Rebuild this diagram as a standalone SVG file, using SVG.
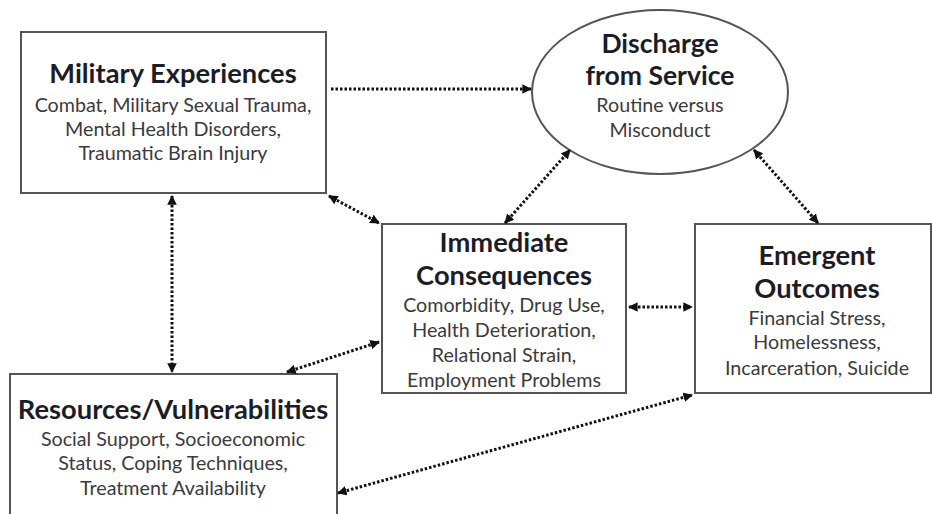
<svg xmlns="http://www.w3.org/2000/svg" width="932" height="514" viewBox="0 0 932 514">
<defs>
<marker id="ah" viewBox="0 0 10 10" refX="9" refY="5" markerWidth="3.2" markerHeight="3.2" orient="auto-start-reverse" markerUnits="strokeWidth">
<path d="M0,0 L10,5 L0,10 z" fill="#111"/>
</marker>
<style>
.box{fill:#fff;stroke:#555;stroke-width:2}
.t{font-family:Lato,"Open Sans","Liberation Sans",sans-serif;font-weight:bold;font-size:27.3px;fill:#1c1c28;text-anchor:middle}
.s{font-family:Lato,"Open Sans","Liberation Sans",sans-serif;font-size:19.7px;fill:#3a3a40;text-anchor:middle}
.c{fill:none;stroke:#111;stroke-width:3;stroke-dasharray:2.5 2}
</style>
</defs>
<rect width="932" height="514" fill="#fff"/>
<g id="military">
<rect class="box" x="21" y="32" width="305" height="161"/>
<text class="t" x="173" y="83">Military Experiences</text>
<text class="s" x="173" y="112">Combat, Military Sexual Trauma,</text>
<text class="s" x="173" y="136">Mental Health Disorders,</text>
<text class="s" x="173" y="160">Traumatic Brain Injury</text>
</g>
<g id="discharge">
<ellipse cx="660" cy="92" rx="128" ry="82" fill="#fff" stroke="#555" stroke-width="2"/>
<text class="t" x="660" y="53" style="font-size:26.5px">Discharge</text>
<text class="t" x="660" y="85" style="font-size:26.5px">from Service</text>
<text class="s" x="660" y="112">Routine versus</text>
<text class="s" x="660" y="137">Misconduct</text>
</g>
<g id="immediate">
<rect class="box" x="382" y="224" width="244" height="169"/>
<text class="t" x="504" y="252">Immediate</text>
<text class="t" x="504" y="285">Consequences</text>
<text class="s" x="504" y="312">Comorbidity, Drug Use,</text>
<text class="s" x="504" y="337">Health Deterioration,</text>
<text class="s" x="504" y="362">Relational Strain,</text>
<text class="s" x="504" y="387">Employment Problems</text>
</g>
<g id="emergent">
<rect class="box" x="695" y="224" width="236" height="169"/>
<text class="t" x="817" y="265">Emergent</text>
<text class="t" x="817" y="298">Outcomes</text>
<text class="s" x="817" y="325">Financial Stress,</text>
<text class="s" x="817" y="349">Homelessness,</text>
<text class="s" x="817" y="375">Incarceration, Suicide</text>
</g>
<g id="resources">
<rect class="box" x="10" y="374" width="327" height="150"/>
<text class="t" x="173" y="419">Resources/Vulnerabilities</text>
<text class="s" x="173" y="446">Social Support, Socioeconomic</text>
<text class="s" x="173" y="470">Status, Coping Techniques,</text>
<text class="s" x="173" y="495">Treatment Availability</text>
</g>
<g id="connectors">
<line class="c" x1="331" y1="89" x2="531" y2="89" marker-end="url(#ah)"/>
<line class="c" x1="329" y1="196" x2="379" y2="223" marker-start="url(#ah)" marker-end="url(#ah)"/>
<line class="c" x1="172" y1="196" x2="172" y2="372" marker-start="url(#ah)" marker-end="url(#ah)"/>
<line class="c" x1="287" y1="372" x2="379" y2="342" marker-start="url(#ah)" marker-end="url(#ah)"/>
<line class="c" x1="505" y1="223" x2="570" y2="150" marker-start="url(#ah)" marker-end="url(#ah)"/>
<line class="c" x1="754" y1="150" x2="818" y2="223" marker-start="url(#ah)" marker-end="url(#ah)"/>
<line class="c" x1="629" y1="307" x2="692" y2="307" marker-start="url(#ah)" marker-end="url(#ah)"/>
<line class="c" x1="338" y1="493" x2="692" y2="395" marker-start="url(#ah)" marker-end="url(#ah)"/>
</g>
</svg>
